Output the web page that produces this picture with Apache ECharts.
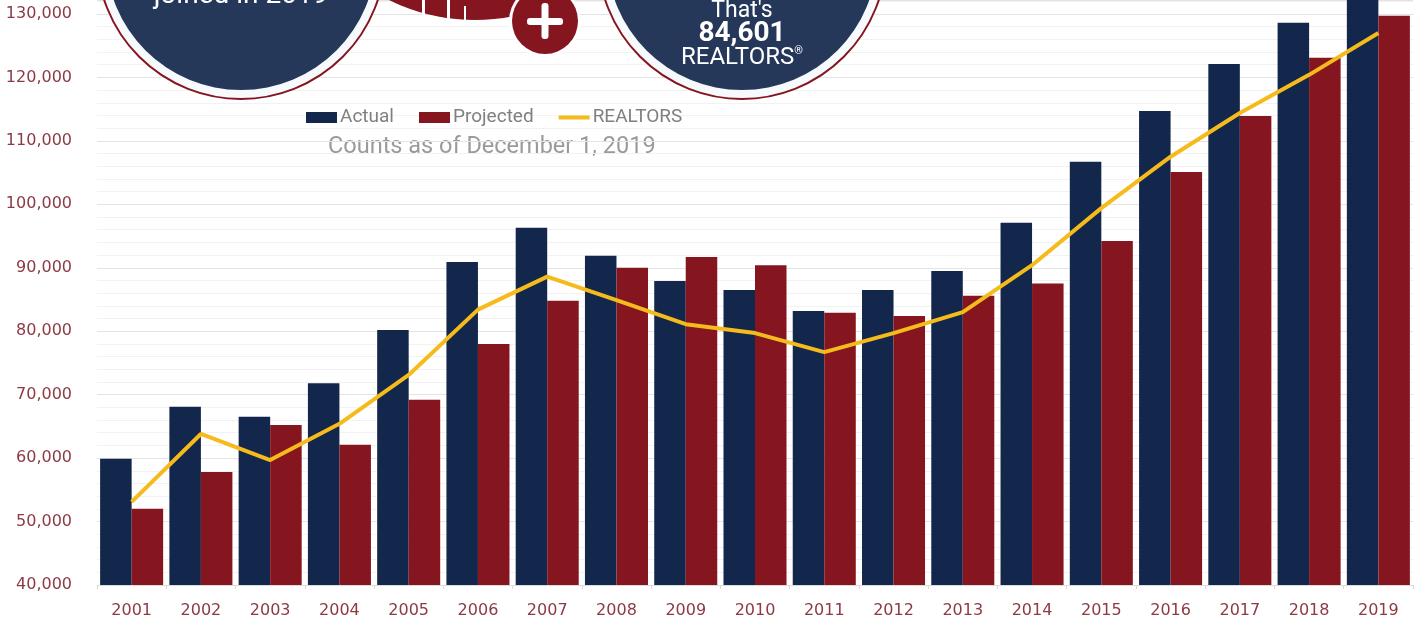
<!DOCTYPE html>
<html>
<head>
<meta charset="utf-8">
<script src="https://cdn.jsdelivr.net/npm/echarts@6/dist/echarts.min.js"></script>
<style>
  html, body { margin: 0; padding: 0; background: #fff; }
  #chart { width: 1417px; height: 623px; }
</style>
</head>
<body>
<div id="chart"></div>
<script>
// years on the x axis
const years = ["2001", "2002", "2003", "2004", "2005", "2006", "2007", "2008", "2009", "2010",
  "2011", "2012", "2013", "2014", "2015", "2016", "2017", "2018", "2019"];
// actual member counts (2019 bar runs off the top)
const actual = [59900, 68100, 66500, 71800, 80200, 90900, 96300, 91900, 87900, 86500,
  83200, 86500, 89500, 97100, 106700, 114700, 122100, 128600, 135000];
// projected counts
const projected = [52000, 57800, 65200, 62100, 69200, 78000, 84800, 90000, 91700, 90400,
  82900, 82400, 85600, 87500, 94200, 105100, 113900, 123100, 129700];
// REALTORS line
const realtors = [53100, 63800, 59700, 65400, 73100, 83400, 88600, 84900, 81100, 79700,
  76700, 79700, 83000, 90400, 99400, 107500, 114400, 120400, 127000];

const NAVY = "#13264b";
const RED = "#85151f";
const GOLD = "#f5bb1c";
const LABEL = "#8c3a43";
const FONT = "Roboto, 'DejaVu Sans', sans-serif";
const AXISFONT = "'DejaVu Sans', sans-serif";

let chart = echarts.init(document.getElementById("chart"));

// put every decoration above the grid lines
function onTop(el) {
  el.z = 100;
  return el;
}

// round badge drawn over the top of the chart
function badge(cx, cy, texts) {
  return [
    onTop({ type: "circle", shape: { cx: cx, cy: cy, r: 144 }, style: { fill: "#f7fafd", stroke: RED, lineWidth: 2 } }),
    onTop({ type: "circle", shape: { cx: cx, cy: cy, r: 135 }, style: { fill: "#253859" } })
  ].concat(texts.map(onTop));
}

chart.setOption({
  animation: false,
  textStyle: { fontFamily: FONT },
  color: [NAVY, RED, GOLD],
  legend: {
    left: 301,
    top: 103,
    itemWidth: 31,
    itemHeight: 11,
    itemGap: 25,
    textStyle: { color: "#808080", fontSize: 19, padding: [0, 0, 0, -2] },
    data: [
      { name: "Actual", icon: "rect" },
      { name: "Projected", icon: "rect" },
      { name: "REALTORS", icon: "path://M0,0h31v4h-31z" }
    ]
  },
  grid: {
    left: 97,
    right: 4,
    top: 0,
    bottom: 38
  },
  xAxis: {
    type: "category",
    data: years,
    axisLine: { lineStyle: { color: "#dcdcdc" } },
    axisTick: { show: true, length: 4, lineStyle: { color: "#dcdcdc" } },
    axisLabel: { color: LABEL, fontSize: 16, margin: 18, fontFamily: AXISFONT }
  },
  yAxis: {
    type: "value",
    min: 40000,
    max: 132200,
    interval: 10000,
    axisLine: { show: false },
    axisTick: { show: false },
    axisLabel: {
      color: LABEL,
      fontSize: 16,
      margin: 25,
      fontFamily: AXISFONT,
      showMaxLabel: false,
      formatter: v => v.toLocaleString("en-US")
    },
    splitLine: { lineStyle: { color: "#e4e4e4", width: 1 } },
    minorTick: { show: false, splitNumber: 5 },
    minorSplitLine: { show: true, lineStyle: { color: "#f2f2f2", width: 1 } }
  },
  series: [
    {
      name: "Actual",
      type: "bar",
      data: actual,
      barGap: 0,
      barCategoryGap: "9%",
      itemStyle: { color: NAVY }
    },
    {
      name: "Projected",
      type: "bar",
      data: projected,
      itemStyle: { color: RED }
    },
    {
      name: "REALTORS",
      type: "line",
      data: realtors,
      symbol: "none",
      z: 5,
      lineStyle: { color: GOLD, width: 4 },
      itemStyle: { color: GOLD }
    }
  ],
  graphic: [
    {
      type: "text",
      left: 328,
      top: 135,
      style: { text: "Counts as of December 1, 2019", fill: "#9a9a9a", fontSize: 23.5, fontFamily: FONT }
    },
    // red fan shape behind the plus
    onTop({ type: "circle", shape: { cx: 475, cy: -175, r: 195 }, style: { fill: RED } }),
    onTop({ type: "rect", shape: { x: 422, y: 0, width: 3, height: 20 }, style: { fill: "#fff" } }),
    onTop({ type: "rect", shape: { x: 447, y: 0, width: 3, height: 20 }, style: { fill: "#fff" } }),
    onTop({ type: "rect", shape: { x: 464, y: 6, width: 2, height: 16 }, style: { fill: "#fff" } }),
    onTop({ type: "circle", shape: { cx: 545, cy: 21, r: 36 }, style: { fill: "#fff" } }),
    onTop({ type: "circle", shape: { cx: 545, cy: 21, r: 33 }, style: { fill: RED } }),
    onTop({ type: "rect", shape: { x: 527, y: 18, width: 36, height: 7, r: 3 }, style: { fill: "#fff" } }),
    onTop({ type: "rect", shape: { x: 541.5, y: 3, width: 7, height: 36, r: 3 }, style: { fill: "#fff" } })
  ].concat(
    badge(241, -45, [
      { type: "text", x: 241, y: 10, style: { text: "joined in 2019", fill: "#fff", fontSize: 28, fontFamily: FONT, align: "center", verticalAlign: "bottom" } }
    ]),
    badge(742, -45, [
      { type: "text", x: 742, y: 11, style: { text: "That's", fill: "#fff", fontSize: 23, fontFamily: FONT, align: "center", verticalAlign: "middle" } },
      { type: "text", x: 742, y: 34, style: { text: "84,601", fill: "#fff", fontSize: 28, fontWeight: "bold", fontFamily: FONT, align: "center", verticalAlign: "middle" } },
      {
        type: "text", x: 742, y: 58,
        style: {
          text: "{a|REALTORS}{b|®}",
          align: "center",
          verticalAlign: "middle",
          rich: {
            a: { fill: "#fff", fontSize: 24, fontFamily: FONT },
            b: { fill: "#fff", fontSize: 11, fontFamily: FONT, verticalAlign: "top", padding: [0, 0, 8, 0] }
          }
        }
      }
    ])
  )
});
</script>
</body>
</html>
